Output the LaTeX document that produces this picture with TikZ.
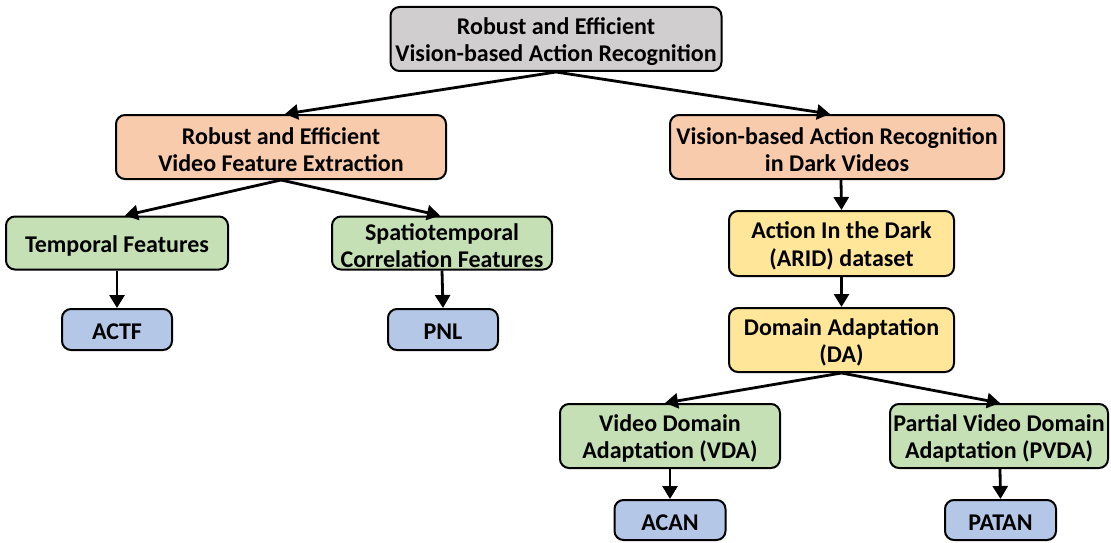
\documentclass[tikz,border=0pt]{standalone}
\usepackage{fontspec}
\setmainfont{Carlito}
\usetikzlibrary{arrows.meta}
\definecolor{cgray}{HTML}{D0CECE}
\definecolor{corange}{HTML}{F8CBAD}
\definecolor{cgreen}{HTML}{C5E0B4}
\definecolor{cyellow}{HTML}{FFE699}
\definecolor{cblue}{HTML}{B4C7E7}
\tikzset{
  box/.style={draw=black, line width=2pt, rounded corners=9pt, inner sep=0pt},
  lbl/.style={align=center, font=\fontsize{24}{27.5}\selectfont\bfseries, inner sep=0pt, yshift=-2.5pt},
  arr/.style={line width=2.8pt, -{Triangle[length=13pt,width=15pt]}}
}
\begin{document}
\begin{tikzpicture}[x=1pt,y=-1pt]
\useasboundingbox (0,0) rectangle (1111,543);
\node[box, fill=cgray, minimum width=331pt, minimum height=64pt, label={[lbl]center:Robust and Efficient\\Vision-based Action Recognition}] (root) at (556,39) {};
\node[box, fill=corange, minimum width=330pt, minimum height=64pt, label={[lbl]center:Robust and Efficient\\Video Feature Extraction}] (lo) at (281,147) {};
\node[box, fill=corange, minimum width=334pt, minimum height=64pt, label={[lbl]center:Vision-based Action Recognition\\in Dark Videos}] (ro) at (837,147) {};
\node[box, fill=cgreen, minimum width=222pt, minimum height=53pt, label={[lbl]center:Temporal Features}] (temp) at (117,243) {};
\node[box, fill=cgreen, minimum width=220pt, minimum height=53pt, label={[lbl]center:Spatiotemporal\\Correlation Features}] (spat) at (442,243) {};
\node[box, fill=cblue, minimum width=110pt, minimum height=41pt, label={[lbl]center:ACTF}] (actf) at (117,329.5) {};
\node[box, fill=cblue, minimum width=110pt, minimum height=41pt, label={[lbl]center:PNL}] (pnl) at (443,329.5) {};
\node[box, fill=cyellow, minimum width=225pt, minimum height=65pt, label={[lbl]center:Action In the Dark\\(ARID) dataset}] (arid) at (841.5,243.5) {};
\node[box, fill=cyellow, minimum width=225pt, minimum height=64pt, label={[lbl]center:Domain Adaptation\\(DA)}] (da) at (841.5,340) {};
\node[box, fill=cgreen, minimum width=220pt, minimum height=64pt, label={[lbl]center:Video Domain\\Adaptation (VDA)}] (vda) at (670,436) {};
\node[box, fill=cgreen, minimum width=218pt, minimum height=64pt, label={[lbl]center:Partial Video Domain\\Adaptation (PVDA)}] (pvda) at (999,436) {};
\node[box, fill=cblue, minimum width=111pt, minimum height=40pt, label={[lbl]center:ACAN}] (acan) at (670,520) {};
\node[box, fill=cblue, minimum width=111pt, minimum height=40pt, label={[lbl]center:PATAN}] (patan) at (1000.5,520) {};
\draw[arr] (root.south) -- ([xshift=4pt]lo.north);
\draw[arr] (root.south) -- ([xshift=-7pt]ro.north);
\draw[arr] (lo.south) -- ([xshift=8pt]temp.north);
\draw[arr] (lo.south) -- ([xshift=-2pt]spat.north);
\draw[arr] (temp.south) -- (actf.north);
\draw[arr] (spat.south) -- (pnl.north);
\draw[arr] ([xshift=4pt]ro.south) -- (arid.north);
\draw[arr] (arid.south) -- (da.north);
\draw[arr] (da.south) -- ([xshift=-5pt]vda.north);
\draw[arr] (da.south) -- ([xshift=1pt]pvda.north);
\draw[arr] (vda.south) -- (acan.north);
\draw[arr] ([xshift=1pt]pvda.south) -- (patan.north);
\end{tikzpicture}
\end{document}
